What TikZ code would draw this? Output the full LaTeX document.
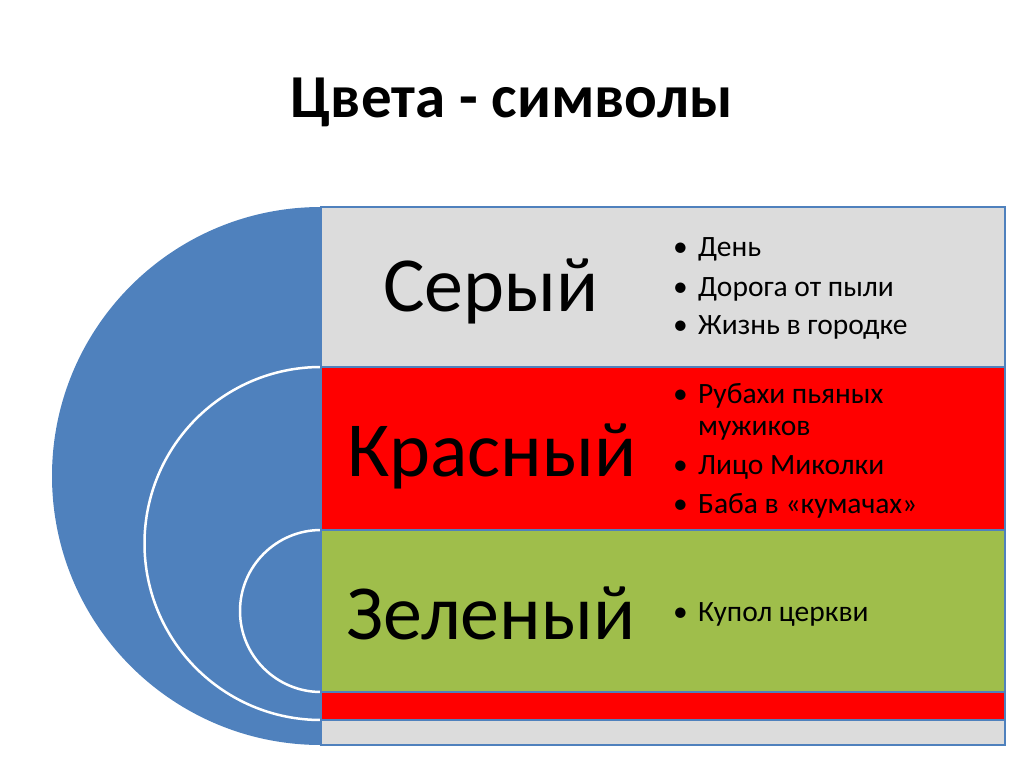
\documentclass[tikz,border=0pt]{standalone}
\usepackage{fontspec}
\setmainfont{Carlito}
\usepackage{tikz}
\definecolor{ringblue}{HTML}{4F81BD}
\definecolor{boxgrey}{HTML}{DCDCDC}
\definecolor{boxred}{HTML}{FF0000}
\definecolor{boxgreen}{HTML}{9FBE4B}
\newcommand{\bulletmark}{\makebox[25pt][l]{•}}

\begin{document}
\begin{tikzpicture}[x=1pt, y=-1pt,
    band/.style={draw=ringblue, line width=1.5pt},
    colour/.style={font=\fontsize{78}{84}\selectfont, anchor=base, inner sep=0pt},
    item/.style={font=\fontsize{29.5}{32}\selectfont, anchor=base west, inner sep=0pt}]
    \useasboundingbox (0,0) rectangle (1024,767);
    % title
    \node[font=\fontsize{61}{66}\selectfont\bfseries, anchor=base] (title) at (512,118) {Цвета - символы};
    % rings
    \fill[ringblue] (321,207) arc[start angle=270, end angle=90, radius=269] -- cycle;
    \fill[ringblue] (321,367) arc[start angle=270, end angle=90, radius=176.5] -- cycle;
    \draw[white, line width=2.5pt] (321,367) arc[start angle=270, end angle=90, radius=176.5];
    \fill[ringblue] (321,530) arc[start angle=270, end angle=90, radius=81] -- cycle;
    \draw[white, line width=2.5pt] (321,530) arc[start angle=270, end angle=90, radius=81];
    % bands
    \filldraw[band, fill=boxgrey] (321,207) rectangle (1005,745);
    \filldraw[band, fill=boxred] (321,367) rectangle (1005,720);
    \filldraw[band, fill=boxgreen] (321,530) rectangle (1005,692);
    % colour names
    \node[colour] (grey) at (491,311) {Серый};
    \node[colour] (red) at (492,476) {Красный};
    \node[colour] (green) at (491,639) {Зеленый};
    % grey items
    \node[item] (grey1) at (673,256) {\bulletmark День};
    \node[item] (grey2) at (673,296) {\bulletmark Дорога от пыли};
    \node[item] (grey3) at (673,334) {\bulletmark Жизнь в городке};
    % red items
    \node[item] (red1) at (673,403) {\bulletmark Рубахи пьяных};
    \node[item] (red1b) at (698,435) {мужиков};
    \node[item] (red2) at (673,474) {\bulletmark Лицо Миколки};
    \node[item] (red3) at (673,513) {\bulletmark Баба в «кумачах»};
    % green items
    \node[item] (green1) at (673,621) {\bulletmark Купол церкви};
\end{tikzpicture}
\end{document}
